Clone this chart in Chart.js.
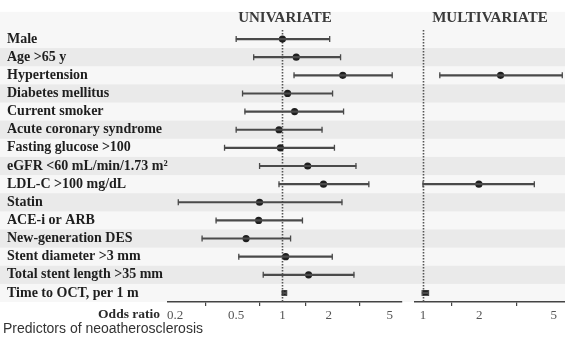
<!DOCTYPE html>
<html>
<head>
<meta charset="utf-8">
<script src="https://cdn.jsdelivr.net/npm/chart.js@4.4.1/dist/chart.umd.min.js"></script>
<style>
  body { margin: 0; background: #ffffff; }
  #wrap { position: relative; width: 565px; height: 338px; overflow: hidden; }
  #uni { position: absolute; left: 0; top: 0; }
  #multi { position: absolute; left: 410px; top: 0; }
  #caption {
    position: absolute; left: 3px; top: 320px;
    font: 14px "Liberation Sans", Arial, sans-serif; color: #333;
  }
</style>
</head>
<body>
<div id="wrap">
  <canvas id="uni" width="410" height="338"></canvas>
  <canvas id="multi" width="155" height="338"></canvas>
  <div id="caption">Predictors of neoatherosclerosis</div>
</div>
<script>
// Rows of the forest plot
const rowLabels = [
  'Male', 'Age >65 y', 'Hypertension', 'Diabetes mellitus', 'Current smoker',
  'Acute coronary syndrome', 'Fasting glucose >100', 'eGFR <60 mL/min/1.73 m²',
  'LDL-C >100 mg/dL', 'Statin', 'ACE-i or ARB', 'New-generation DES',
  'Stent diameter >3 mm', 'Total stent length >35 mm', 'Time to OCT, per 1 m'
];

// Univariate odds ratios and 95% CI
const uniOR   = [1.00, 1.23, 2.47, 1.08, 1.20, 0.95, 0.97, 1.46, 1.85, 0.71, 0.70, 0.58, 1.05, 1.48, 1.03];
const uniLow  = [0.50, 0.65, 1.19, 0.55, 0.57, 0.50, 0.42, 0.71, 0.95, 0.21, 0.37, 0.30, 0.52, 0.75, 1.01];
const uniHigh = [2.03, 2.39, 5.18, 2.12, 2.50, 1.81, 2.18, 3.01, 3.65, 2.44, 1.35, 1.13, 2.11, 2.92, 1.06];

// Multivariate odds ratios and 95% CI
const multiOR   = [null, null, 2.60, null, null, null, null, null, 1.99, null, null, null, null, null, 1.03];
const multiLow  = [null, null, 1.23, null, null, null, null, null, 1.00, null, null, null, null, null, 0.99];
const multiHigh = [null, null, 5.56, null, null, null, null, null, 3.94, null, null, null, null, null, 1.07];

// Axis ticks
const uniTicks = [0.2, 0.5, 1, 2, 5];
const multiTicks = [1, 2, 5];

const SERIF = '"Liberation Serif", "Times New Roman", serif';
const LINE_COLOR = '#4a4a4a';
const DOT_COLOR = '#1e1e1e';

// Zebra stripes, reference line at OR = 1, panel header
const forestPlugin = {
  id: 'forest',
  beforeDraw(chart, args, opts) {
    const { ctx, scales: { y } } = chart;
    const step = y.getPixelForValue(1) - y.getPixelForValue(0);
    const top = y.getPixelForValue(0) - step * 1.5;
    const bottom = y.getPixelForValue(rowLabels.length - 1) + step / 2;
    ctx.save();
    ctx.fillStyle = '#f7f7f7';
    ctx.fillRect(0, top, chart.width, bottom - top);
    ctx.fillStyle = '#eaeaea';
    for (let i = 1; i < rowLabels.length; i += 2) {
      const c = y.getPixelForValue(i);
      ctx.fillRect(0, c - step / 2, chart.width, step);
    }
    ctx.restore();
  },
  beforeDatasetsDraw(chart) {
    const { ctx, chartArea, scales: { x } } = chart;
    const px = Math.round(x.getPixelForValue(1)) + 0.5;
    ctx.save();
    ctx.strokeStyle = '#555';
    ctx.lineWidth = 1.6;
    ctx.setLineDash([1.5, 1.5]);
    ctx.beginPath();
    ctx.moveTo(px, chartArea.top);
    ctx.lineTo(px, chartArea.bottom);
    ctx.stroke();
    ctx.restore();
  },
  afterDraw(chart, args, opts) {
    const { ctx, chartArea, scales: { x } } = chart;
    ctx.save();
    ctx.fillStyle = '#3a3a3a';
    ctx.font = 'bold 15px ' + SERIF;
    ctx.textAlign = 'center';
    ctx.textBaseline = 'middle';
    ctx.fillText(opts.title, (chartArea.left + chartArea.right) / 2, chartArea.top - 12);
    if (opts.axisTitle) {
      ctx.fillStyle = '#2a2a2a';
      ctx.font = 'bold 13.5px ' + SERIF;
      ctx.textAlign = 'right';
      ctx.fillText(opts.axisTitle, x.left - 8, chartArea.bottom + 13);
    }
    ctx.restore();
  }
};

function buildDatasets(or, low, high) {
  const bars = low.map((l, i) => (l == null ? null : [l, high[i]]));
  const caps = [];
  const dots = [];
  const styles = [];
  const radii = [];
  or.forEach((v, i) => {
    if (v == null) return;
    caps.push({ x: low[i], y: rowLabels[i] }, { x: high[i], y: rowLabels[i] });
    dots.push({ x: v, y: rowLabels[i] });
    // last row is drawn as a small block in the source figure
    const last = i === rowLabels.length - 1;
    styles.push(last ? 'rect' : 'circle');
    radii.push(last ? 4 : 3.6);
  });
  return [
    {
      type: 'bar',
      indexAxis: 'y',
      data: bars,
      backgroundColor: LINE_COLOR,
      borderWidth: 0,
      barThickness: 1.5
    },
    {
      type: 'scatter',
      data: caps,
      pointStyle: 'line',
      rotation: 90,
      radius: 3,
      borderColor: LINE_COLOR,
      borderWidth: 1.3
    },
    {
      type: 'scatter',
      data: dots,
      pointStyle: styles,
      radius: radii,
      backgroundColor: DOT_COLOR,
      borderColor: DOT_COLOR,
      borderWidth: 0
    }
  ];
}

function makeChart(canvasId, cfg) {
  return new Chart(document.getElementById(canvasId), {
    type: 'bar',
    data: { labels: rowLabels, datasets: buildDatasets(cfg.or, cfg.low, cfg.high) },
    options: {
      responsive: false,
      animation: false,
      events: [],
      layout: { padding: cfg.padding, autoPadding: false },
      plugins: {
        legend: { display: false },
        tooltip: { enabled: false },
        forest: { title: cfg.title, axisTitle: cfg.axisTitle }
      },
      scales: {
        x: {
          type: 'logarithmic',
          min: cfg.min,
          max: cfg.max,
          afterBuildTicks: (scale) => { scale.ticks = cfg.ticks.map(v => ({ value: v })); },
          afterFit: (scale) => {
            scale.height = 36;
            scale.paddingLeft = 0;
            scale.paddingRight = 0;
          },
          ticks: {
            autoSkip: false,
            maxRotation: 0,
            padding: 2,
            color: '#555',
            font: { family: SERIF, size: 13 },
            callback: (v) => String(v)
          },
          grid: { drawOnChartArea: false, drawTicks: true, tickLength: 4, color: '#444', lineWidth: 1.2 },
          border: { display: true, color: '#444', width: 1.5 }
        },
        y: {
          type: 'category',
          labels: rowLabels,
          offset: true,
          display: cfg.showLabels,
          afterFit: (scale) => { scale.width = cfg.showLabels ? 161 : 0; },
          ticks: {
            autoSkip: false,
            crossAlign: 'far',
            padding: 0,
            color: '#1e1e1e',
            font: { family: SERIF, size: 14, weight: 'bold' }
          },
          grid: { display: false, drawTicks: false },
          border: { display: false }
        }
      }
    },
    plugins: [forestPlugin]
  });
}

makeChart('uni', {
  or: uniOR, low: uniLow, high: uniHigh,
  min: 0.18, max: 6, ticks: uniTicks,
  title: 'UNIVARIATE', axisTitle: 'Odds ratio', showLabels: true,
  padding: { left: 7, top: 30, right: 8, bottom: 0 }
});

makeChart('multi', {
  or: multiOR, low: multiLow, high: multiHigh,
  min: 0.906, max: 5.75, ticks: multiTicks,
  title: 'MULTIVARIATE', axisTitle: null, showLabels: false,
  padding: { left: 5, top: 30, right: 0, bottom: 0 }
});
</script>
</body>
</html>
